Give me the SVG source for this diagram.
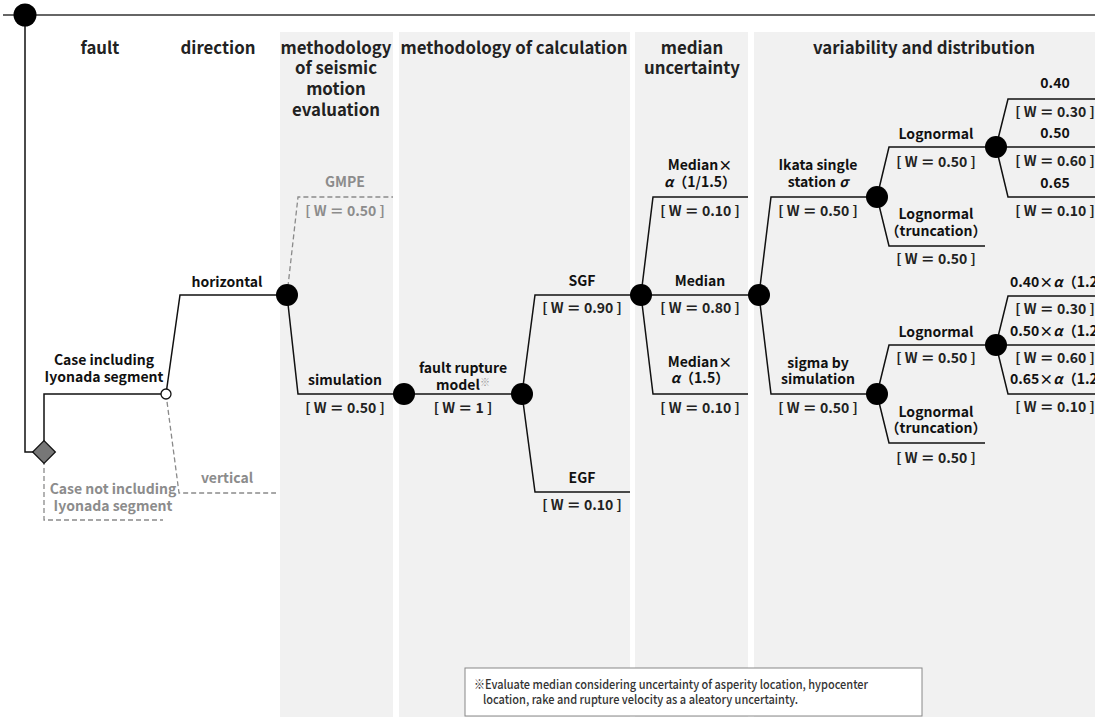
<svg xmlns="http://www.w3.org/2000/svg" width="1095" height="717" viewBox="0 0 1095 717">
  <style>
    .col { fill: #f1f1f1; }
    .ln { fill: none; stroke: #111; stroke-width: 1.5; }
    .dl { fill: none; stroke: #8a8a8a; stroke-width: 1.3; stroke-dasharray: 5 3; }
    .nd { fill: #000; }
    text { font-family: "Noto Sans CJK JP", "Liberation Sans", sans-serif; font-weight: bold; }
    .h { font-size: 16.8px; fill: #222; text-anchor: middle; }
    .t { font-size: 14px; fill: #111; text-anchor: middle; }
    .w { font-size: 14px; fill: #222; text-anchor: middle; }
    .ts { text-anchor: start; }
    .g { fill: #8c8c8c; }
    .it { font-style: italic; }
    .note { font-size: 12.5px; fill: #333; font-weight: 500; }
  </style>

  <!-- column backgrounds -->
  <g id="columns">
    <rect class="col" x="280" y="32" width="113" height="685"/>
    <rect class="col" x="399" y="32" width="231" height="685"/>
    <rect class="col" x="635" y="32" width="113" height="685"/>
    <rect class="col" x="754" y="32" width="341" height="685"/>
  </g>

  <!-- column headings -->
  <g id="headers">
    <text class="h" x="100" y="54">fault</text>
    <text class="h" x="218" y="54">direction</text>
    <text class="h" x="336" y="54">methodology</text>
    <text class="h" x="336" y="74">of seismic</text>
    <text class="h" x="336" y="95">motion</text>
    <text class="h" x="336" y="116">evaluation</text>
    <text class="h" x="514" y="54">methodology of calculation</text>
    <text class="h" x="692" y="54">median</text>
    <text class="h" x="692" y="74">uncertainty</text>
    <text class="h" x="924" y="54">variability and distribution</text>
  </g>

  <!-- branches -->
  <g id="connectors">
    <line x1="3" y1="15" x2="1095" y2="15" stroke="#333" stroke-width="1.5"/>
    <path class="ln" d="M25 15 V452 H44"/>
    <path class="ln" d="M44 452 V394 H166"/>
    <path class="dl" d="M44 452 V520 H163"/>
    <path class="ln" d="M166 394 L180 295 H287"/>
    <path class="dl" d="M166 394 L179 493 H276"/>
    <path class="dl" d="M287 295 L298 197 H393"/>
    <path class="ln" d="M287 295 L298 394 H404"/>
    <path class="ln" d="M404 394 H522"/>
    <path class="ln" d="M522 394 L535 295 H641"/>
    <path class="ln" d="M522 394 L535 492 H630"/>
    <path class="ln" d="M641 295 L653 197 H748"/>
    <path class="ln" d="M641 295 H759"/>
    <path class="ln" d="M641 295 L653 394 H748"/>
    <path class="ln" d="M759 295 L771 197 H877"/>
    <path class="ln" d="M759 295 L771 394 H877"/>
    <path class="ln" d="M877 197 L889 147 H996"/>
    <path class="ln" d="M877 197 L889 246 H985"/>
    <path class="ln" d="M877 394 L889 345 H996"/>
    <path class="ln" d="M877 394 L889 443 H985"/>
    <path class="ln" d="M996 147 L1008 99 H1095"/>
    <path class="ln" d="M996 147 H1095"/>
    <path class="ln" d="M996 147 L1008 197 H1095"/>
    <path class="ln" d="M996 345 L1008 296 H1095"/>
    <path class="ln" d="M996 345 H1095"/>
    <path class="ln" d="M996 345 L1008 394 H1095"/>
  </g>

  <g id="root">
    <circle class="nd" cx="25" cy="15" r="11.5"/>
  </g>

  <g id="fault-node">
    <rect x="36" y="444" width="16" height="16" transform="rotate(45 44 452)" fill="#777" stroke="#111" stroke-width="1.3"/>
  </g>

  <g id="case-including">
    <circle cx="166" cy="394" r="5" fill="#fff" stroke="#111" stroke-width="1.3"/>
    <text class="t" x="104" y="365">Case including</text>
    <text class="t" x="104" y="382">Iyonada segment</text>
  </g>

  <g id="case-not-including">
    <text class="t g" x="113" y="494">Case not including</text>
    <text class="t g" x="113" y="511">Iyonada segment</text>
  </g>

  <g id="horizontal">
    <circle class="nd" cx="287" cy="295" r="11"/>
    <text class="t" x="227" y="287">horizontal</text>
  </g>

  <g id="vertical">
    <text class="t g" x="227" y="483">vertical</text>
  </g>

  <g id="gmpe">
    <text class="t g" x="345" y="187">GMPE</text>
    <text class="w g" x="345" y="216">[ W ＝ 0.50 ]</text>
  </g>

  <g id="simulation">
    <circle class="nd" cx="404" cy="394" r="11"/>
    <text class="t" x="345" y="385">simulation</text>
    <text class="w" x="345" y="413">[ W ＝ 0.50 ]</text>
  </g>

  <g id="fault-rupture-model">
    <circle class="nd" cx="522" cy="394" r="11"/>
    <text class="t" x="463" y="373">fault rupture</text>
    <text class="t" x="463" y="390">model<tspan font-size="10" fill="#999" dy="-4">※</tspan></text>
    <text class="w" x="463" y="413">[ W ＝ 1 ]</text>
  </g>

  <g id="sgf">
    <circle class="nd" cx="641" cy="295" r="11"/>
    <text class="t" x="582" y="286">SGF</text>
    <text class="w" x="582" y="313">[ W ＝ 0.90 ]</text>
  </g>

  <g id="egf">
    <text class="t" x="582" y="483">EGF</text>
    <text class="w" x="582" y="510">[ W ＝ 0.10 ]</text>
  </g>

  <g id="median-low">
    <text class="t" x="700" y="170">Median×</text>
    <text class="t" x="700" y="187"><tspan class="it">α</tspan>（1/1.5）</text>
    <text class="w" x="700" y="216">[ W ＝ 0.10 ]</text>
  </g>

  <g id="median">
    <circle class="nd" cx="759" cy="295" r="11"/>
    <text class="t" x="700" y="286">Median</text>
    <text class="w" x="700" y="313">[ W ＝ 0.80 ]</text>
  </g>

  <g id="median-high">
    <text class="t" x="700" y="367">Median×</text>
    <text class="t" x="700" y="383"><tspan class="it">α</tspan>（1.5）</text>
    <text class="w" x="700" y="413">[ W ＝ 0.10 ]</text>
  </g>

  <g id="ikata-sigma">
    <circle class="nd" cx="877" cy="197" r="11"/>
    <text class="t" x="818" y="170">Ikata single</text>
    <text class="t" x="818" y="187">station <tspan class="it">σ</tspan></text>
    <text class="w" x="818" y="216">[ W ＝ 0.50 ]</text>
  </g>

  <g id="sigma-simulation">
    <circle class="nd" cx="877" cy="394" r="11"/>
    <text class="t" x="818" y="368">sigma by</text>
    <text class="t" x="818" y="384">simulation</text>
    <text class="w" x="818" y="413">[ W ＝ 0.50 ]</text>
  </g>

  <g id="lognormal-a">
    <circle class="nd" cx="996" cy="147" r="11"/>
    <text class="t" x="936" y="139">Lognormal</text>
    <text class="w" x="936" y="167">[ W ＝ 0.50 ]</text>
  </g>

  <g id="truncation-a">
    <text class="t" x="936" y="219">Lognormal</text>
    <text class="t" x="936" y="236">（truncation）</text>
    <text class="w" x="936" y="264">[ W ＝ 0.50 ]</text>
  </g>

  <g id="lognormal-b">
    <circle class="nd" cx="996" cy="345" r="11"/>
    <text class="t" x="936" y="337">Lognormal</text>
    <text class="w" x="936" y="363">[ W ＝ 0.50 ]</text>
  </g>

  <g id="truncation-b">
    <text class="t" x="936" y="417">Lognormal</text>
    <text class="t" x="936" y="433">（truncation）</text>
    <text class="w" x="936" y="463">[ W ＝ 0.50 ]</text>
  </g>

  <g id="sigma-a-values">
    <text class="t" x="1055" y="88">0.40</text>
    <text class="w" x="1055" y="117">[ W ＝ 0.30 ]</text>
    <text class="t" x="1055" y="138">0.50</text>
    <text class="w" x="1055" y="166">[ W ＝ 0.60 ]</text>
    <text class="t" x="1055" y="188">0.65</text>
    <text class="w" x="1055" y="216">[ W ＝ 0.10 ]</text>
  </g>

  <g id="sigma-b-values">
    <text class="t ts" x="1010" y="287">0.40×<tspan class="it">α</tspan>（1.2）</text>
    <text class="w" x="1055" y="314">[ W ＝ 0.30 ]</text>
    <text class="t ts" x="1010" y="336">0.50×<tspan class="it">α</tspan>（1.2）</text>
    <text class="w" x="1055" y="363">[ W ＝ 0.60 ]</text>
    <text class="t ts" x="1010" y="384">0.65×<tspan class="it">α</tspan>（1.2）</text>
    <text class="w" x="1055" y="412">[ W ＝ 0.10 ]</text>
  </g>

  <g id="note">
    <rect x="465" y="668" width="457" height="48" fill="#fff" stroke="#888" stroke-width="1"/>
    <text class="note" x="474" y="689" textLength="394" lengthAdjust="spacingAndGlyphs">※Evaluate median considering  uncertainty of asperity location, hypocenter</text>
    <text class="note" x="483" y="704" textLength="315" lengthAdjust="spacingAndGlyphs">location, rake and rupture velocity as a aleatory uncertainty.</text>
  </g>
</svg>
